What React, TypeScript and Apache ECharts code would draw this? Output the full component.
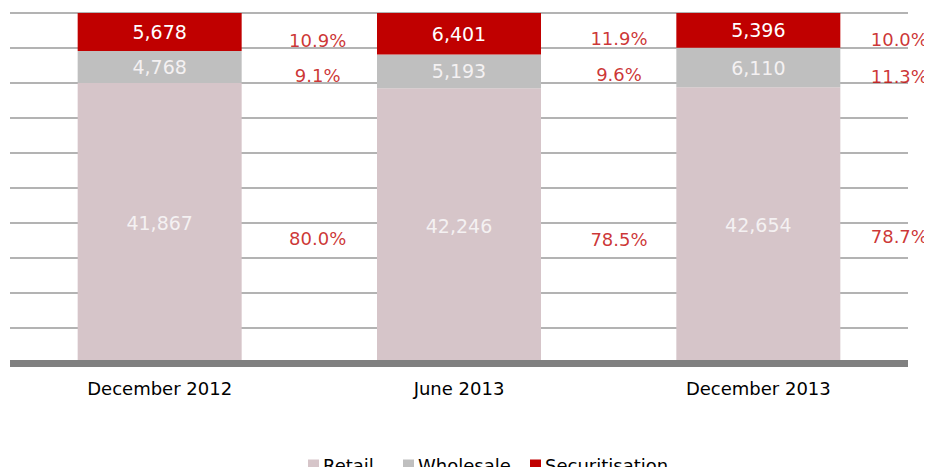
import React, { useEffect, useRef } from "react";
import * as echarts from "echarts";

const categories = ["December 2012", "June 2013", "December 2013"];
const retail = [41867, 42246, 42654];
const wholesale = [4768, 5193, 6110];
const securitisation = [5678, 6401, 5396];
const retailPct = ["80.0%", "78.5%", "78.7%"];
const wholesalePct = ["9.1%", "9.6%", "11.3%"];
const securitisationPct = ["10.9%", "11.9%", "10.0%"];
const legendNames = ["Retail", "Wholesale", "Securitisation"];

const FONT = "DejaVu Sans";
const RED = "#c00000";
const COLORS = ["#d6c5c9", "#bfbfbf", "#c00000"];
// layout only
const PCT_DX = [158, 160, 141];
const PCT_DY = {
  Retail: [16, 14, 11],
  Wholesale: [9, 3, 9],
  Securitisation: [9, 5, 9],
};
const LEGEND_LEFT = [303, 398, 525];

const fmt = (v: number) => v.toLocaleString("en-US");

export default function App() {
  const ref = useRef<HTMLDivElement>(null);

  useEffect(() => {
    if (!ref.current) return;
    const chart = echarts.init(ref.current, null, { renderer: "svg" });

    const raw = [retail, wholesale, securitisation];
    const pcts = [retailPct, wholesalePct, securitisationPct];
    const totals = categories.map((_, i) => retail[i] + wholesale[i] + securitisation[i]);
    const shares = raw.map((arr) => arr.map((v, i) => (v / totals[i]) * 100));

    const barSeries = legendNames.map((name, s) => ({
      name,
      type: "bar",
      stack: "total",
      barWidth: 164,
      data: shares[s],
      itemStyle: { color: COLORS[s] },
      label: {
        show: true,
        position: "inside",
        color: s === 2 ? "#ffffff" : "#f4f1f2",
        fontFamily: FONT,
        fontSize: 19,
        formatter: (p: any) => fmt(raw[s][p.dataIndex]),
      },
      z: 2,
    }));

    const pctSeries = legendNames.map((name, s) => ({
      name: name + " %",
      type: "scatter",
      symbolSize: 0,
      silent: true,
      data: categories.map((_, i) => {
        let start = 0;
        for (let k = 0; k < s; k++) start += shares[k][i];
        return {
          value: [i, start + shares[s][i] / 2],
          label: {
            offset: [PCT_DX[i], (PCT_DY as any)[name][i]],
          },
        };
      }),
      label: {
        show: true,
        position: "inside",
        color: RED,
        fontFamily: FONT,
        fontSize: 18,
        formatter: (p: any) => pcts[s][p.dataIndex],
      },
      z: 3,
    }));

    chart.setOption({
      animation: false,
      backgroundColor: "#ffffff",
      textStyle: { fontFamily: FONT },
      grid: { left: 10, right: 24, top: 13, bottom: 112, containLabel: false },
      legend: legendNames.map((n, k) => ({
        data: [n],
        left: LEGEND_LEFT[k],
        top: 451,
        icon: "rect",
        itemWidth: 11,
        itemHeight: 11,
        textStyle: { fontFamily: FONT, fontSize: 18, color: "#000000", padding: [0, 0, 0, -1] },
      })),
      xAxis: {
        type: "category",
        data: categories,
        axisLine: { show: true, lineStyle: { color: "#808080", width: 7, cap: "butt" } },
        axisTick: { show: false },
        axisLabel: { margin: 16, fontFamily: FONT, fontSize: 18, color: "#000000" },
        z: 5,
      },
      yAxis: {
        type: "value",
        min: 0,
        max: 100,
        interval: 10,
        axisLabel: { show: false },
        axisLine: { show: false },
        axisTick: { show: false },
        splitLine: { show: true, lineStyle: { color: "#9a9a9a", width: 1.5 } },
      },
      series: [...barSeries, ...pctSeries],
    });

    return () => chart.dispose();
  }, []);

  return <div ref={ref} style={{ width: 932, height: 475, margin: -8 }} />;
}
